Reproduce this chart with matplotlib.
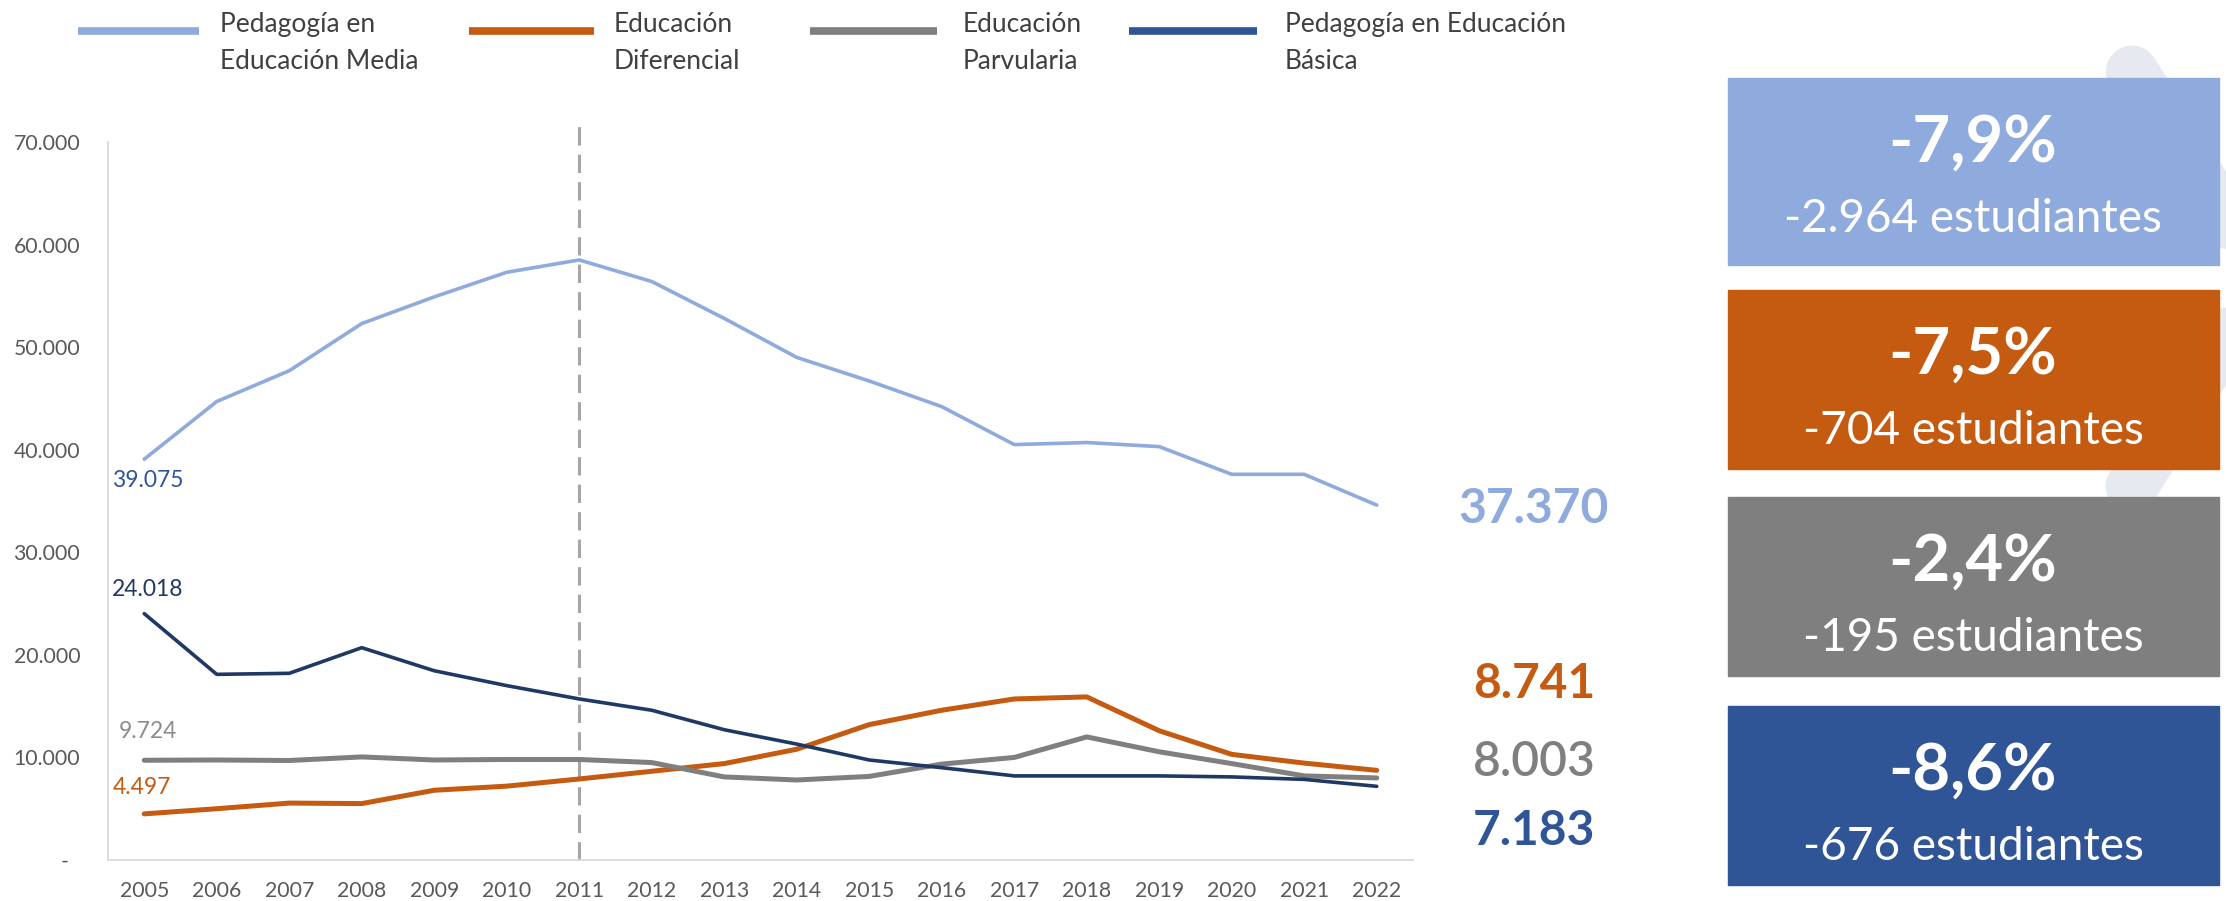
"""Matrícula de pedagogías 2005-2022: líneas por carrera + recuadros de variación 2021-2022."""

import matplotlib
matplotlib.use("Agg")
import matplotlib.pyplot as plt
from matplotlib.patches import Rectangle
from matplotlib.ticker import FuncFormatter

plt.rcParams["font.family"] = ["Lato", "DejaVu Sans"]

# --- data -----------------------------------------------------------------
years = ["2005", "2006", "2007", "2008", "2009", "2010", "2011", "2012", "2013",
         "2014", "2015", "2016", "2017", "2018", "2019", "2020", "2021", "2022"]

media = [39075, 44700, 47700, 52300, 54900, 57300, 58500, 56400, 52800,
         49000, 46700, 44200, 40500, 40700, 40300, 37600, 37600, 34600]
diferencial = [4497, 5000, 5550, 5500, 6800, 7200, 7900, 8650, 9400,
               10800, 13200, 14600, 15700, 15900, 12600, 10300, 9445, 8741]
parvularia = [9724, 9750, 9700, 10050, 9750, 9800, 9800, 9500, 8100,
              7800, 8150, 9350, 10000, 12000, 10550, 9400, 8198, 8003]
basica = [24018, 18100, 18200, 20700, 18450, 17000, 15700, 14600, 12700,
          11300, 9750, 9000, 8200, 8200, 8200, 8100, 7859, 7183]

series_names = ["Pedagogía en\nEducación Media", "Educación\nDiferencial",
                "Educación\nParvularia", "Pedagogía en Educación\nBásica"]
series_values = [media, diferencial, parvularia, basica]

start_labels = ["39.075", "4.497", "9.724", "24.018"]
end_labels = ["37.370", "8.741", "8.003", "7.183"]
pct_labels = ["-7,9%", "-7,5%", "-2,4%", "-8,6%"]
diff_labels = ["-2.964 estudiantes", "-704 estudiantes",
               "-195 estudiantes", "-676 estudiantes"]

y_ticks = [0, 10000, 20000, 30000, 40000, 50000, 60000, 70000]
cut_year = "2011"

# --- styles ---------------------------------------------------------------
line_colors = ["#8FAADC", "#C55A11", "#7F7F7F", "#203864"]
key_colors = ["#8FAADC", "#C55A11", "#7F7F7F", "#2F5597"]
line_widths = [2.6, 3.6, 3.6, 2.6]
start_colors = ["#2F5597", "#C55A11", "#8C8C8C", "#203864"]
start_offsets = [(-32, -21), (-32, 26), (-25, 29), (-32, 24)]
end_weights = ["bold", "bold", "semibold", "bold"]
end_baselines = [523, 698, 776, 845]
box_tops = [78, 290, 497, 706]
box_heights = [187, 179, 179, 179]
legend_key_x = [(78, 199), (469, 594), (810, 937), (1129, 1257)]
legend_text_x = [220, 614, 963, 1285]
TICK_GREY = "#595959"
AXIS_GREY = "#D9D9D9"

W, H = 2226, 901
fig = plt.figure(figsize=(W / 100, H / 100), dpi=100)

# --- main line chart ------------------------------------------------------
ax = fig.add_axes([108 / W, 1 - 860 / H, (1413 - 108) / W, (860 - 142) / H])
xs = list(range(len(years)))
for vals, color, lw in zip(series_values, line_colors, line_widths):
    ax.plot(xs, vals, color=color, lw=lw, solid_joinstyle="round",
            solid_capstyle="round", zorder=3)

for vals, txt, color, off in zip(series_values, start_labels, start_colors, start_offsets):
    ax.annotate(txt, (0, vals[0]), xytext=off, textcoords="offset pixels",
                ha="left", va="center", fontsize=16.5, color=color,
                annotation_clip=False, zorder=4)

ax.axvline(years.index(cut_year), ymin=0, ymax=1.03, color="#A6A6A6", lw=2.2,
           dashes=(6, 3), clip_on=False, zorder=2)

ax.set_xlim(-0.5, len(years) - 0.5)
ax.set_ylim(0, 70000)
ax.set_xticks(xs)
ax.set_xticklabels(years)
ax.set_yticks(y_ticks)
ax.yaxis.set_major_formatter(
    FuncFormatter(lambda v, _: "-  " if v == 0 else f"{v:,.0f}".replace(",", ".")))
ax.tick_params(axis="both", length=0, labelsize=15.3, labelcolor=TICK_GREY)
ax.tick_params(axis="y", pad=20)
ax.tick_params(axis="x", pad=15)
for side in ("top", "right"):
    ax.spines[side].set_visible(False)
for side in ("left", "bottom"):
    ax.spines[side].set_color(AXIS_GREY)
    ax.spines[side].set_linewidth(1.3)

# --- overlay in pixel coords: legend, end values, boxes --------------------
ov = fig.add_axes([0, 0, 1, 1])
ov.set_xlim(0, W)
ov.set_ylim(H, 0)
ov.axis("off")

for (x0, x1), tx, name, color in zip(legend_key_x, legend_text_x, series_names, key_colors):
    ov.plot([x0, x1], [31, 31], color=color, lw=5.5, solid_capstyle="butt")
    for i, line in enumerate(name.split("\n")):
        ov.text(tx, 32 + i * 37, line, ha="left", va="baseline",
                fontsize=19, color="#404040")

for txt, color, weight, base in zip(end_labels, key_colors, end_weights, end_baselines):
    ov.text(1534, base, txt, ha="center", va="baseline", fontsize=34.5,
            fontweight=weight, color=color)

# decorative chevron behind the boxes
ov.plot([2132, 2262, 2132], [72, 278, 486], color="#E6E9F0", lw=38,
        solid_capstyle="round", solid_joinstyle="round", zorder=1)

for top, h, color, pct, diff in zip(box_tops, box_heights, key_colors,
                                     pct_labels, diff_labels):
    ov.add_patch(Rectangle((1728, top), 491, h, color=color, zorder=3))
    ov.text(1973, top + 84, pct, ha="center", va="baseline", fontsize=47,
            fontweight="bold", color="white", zorder=4)
    ov.text(1973, top + 154, diff, ha="center", va="baseline", fontsize=33,
            color="white", zorder=4)

fig.savefig("out.png", dpi=100, facecolor="white")
